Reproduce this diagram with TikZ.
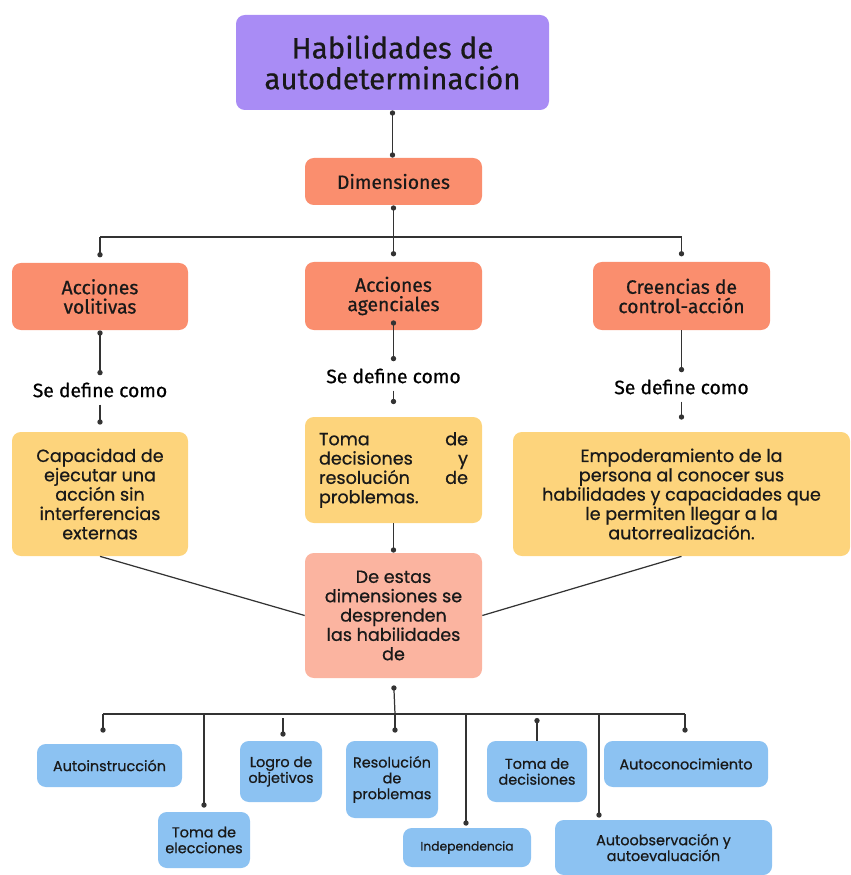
\documentclass[tikz,border=0pt]{standalone}
\usepackage{fontspec}
\setmainfont{Poppins}[FakeBold=0.7]
\newfontfamily\humfont{Fira Sans}[FakeBold=0.6]
\usetikzlibrary{arrows.meta}
\definecolor{lila}{HTML}{A98CF5}
\definecolor{salmon}{HTML}{FA8E6E}
\definecolor{salmonclaro}{HTML}{FBB4A0}
\definecolor{amarillo}{HTML}{FDD47C}
\definecolor{celeste}{HTML}{8CC2F2}
\definecolor{linea}{HTML}{333333}
\begin{document}
\begin{tikzpicture}[
  caja/.style={rounded corners=5pt,inner sep=0pt,align=center,text=black!90},
  titulo/.style={caja,fill=lila,font=\humfont\fontsize{16.8}{17.5}\selectfont},
  dimbox/.style={caja,fill=salmon,font=\humfont\fontsize{11}{11}\selectfont},
  defbox/.style={caja,fill=amarillo,font=\fontsize{10}{11}\selectfont},
  habbox/.style={caja,fill=celeste,font=\fontsize{8.2}{9}\selectfont},
  sedef/.style={inner sep=4pt,font=\humfont\fontsize{11}{11}\selectfont},
  con/.style={line width=0.7pt,draw=linea},
  dd/.style={con,{Circle[length=3pt]}-{Circle[length=3pt]}},
  pto/.style={con,-{Circle[length=3pt]}},
  ptoini/.style={con,{Circle[length=3pt]}-}]
  \useasboundingbox (0,0) rectangle (17,-17.5);
  % Titulo y dimensiones
  \node[titulo,minimum width=6.26cm,minimum height=1.9cm] (tit) at (7.85,-1.25) {Habilidades de\\autodeterminación};
  \node[dimbox,minimum width=3.54cm,minimum height=0.94cm] (dim) at (7.87,-3.63) {Dimensiones};
  \node[dimbox,minimum width=3.52cm,minimum height=1.34cm] (vol) at (2.0,-5.93) {Acciones\\volitivas};
  \node[dimbox,minimum width=3.54cm,minimum height=1.36cm] (age) at (7.87,-5.92) {Acciones\\agenciales};
  \node[dimbox,minimum width=3.54cm,minimum height=1.36cm] (cre) at (13.63,-5.92) {Creencias de\\control-acción};
  % Se define como
  \node[sedef] (se1) at (2.0,-7.8) {Se define como};
  \node[sedef] (se2) at (7.87,-7.52) {Se define como};
  \node[sedef] (se3) at (13.63,-7.74) {Se define como};
  % Definiciones
  \node[defbox,minimum width=3.52cm,minimum height=2.48cm] (cap) at (2.0,-9.88) {Capacidad de\\ejecutar una\\acción sin\\interferencias\\externas};
  \node[defbox,minimum width=3.54cm,minimum height=2.12cm,align=left,text width=2.98cm] (toma) at (7.87,-9.4) {Toma\hfill de\\decisiones\hfill y\\resolución\hfill de\\problemas.};
  \node[defbox,minimum width=6.74cm,minimum height=2.48cm] (emp) at (13.63,-9.88) {Empoderamiento de la\\persona al conocer sus\\habilidades y capacidades que\\le permiten llegar a la\\autorrealización.};
  \node[caja,fill=salmonclaro,font=\fontsize{10}{11}\selectfont,minimum width=3.54cm,minimum height=2.5cm] (dee) at (7.87,-12.31) {De estas\\dimensiones se\\desprenden\\las habilidades\\de};
  % Habilidades
  \node[habbox,minimum width=2.9cm,minimum height=0.86cm] (ains) at (2.19,-15.31) {Autoinstrucción};
  \node[habbox,minimum width=1.84cm,minimum height=1.12cm] (elec) at (4.08,-16.8) {Toma de\\elecciones};
  \node[habbox,minimum width=1.64cm,minimum height=1.22cm] (logro) at (5.62,-15.43) {Logro de\\objetivos};
  \node[habbox,minimum width=1.84cm,minimum height=1.54cm] (res) at (7.84,-15.59) {Resolución\\de\\problemas};
  \node[habbox,font=\fontsize{7}{8.5}\selectfont,minimum width=2.56cm,minimum height=0.78cm] (indep) at (9.34,-16.95) {Independencia};
  \node[habbox,minimum width=2.0cm,minimum height=1.22cm] (tdec) at (10.74,-15.43) {Toma de\\decisiones};
  \node[habbox,minimum width=3.28cm,minimum height=0.92cm] (acon) at (13.72,-15.28) {Autoconocimiento};
  \node[habbox,minimum width=4.34cm,minimum height=1.1cm] (aobs) at (13.27,-16.95) {Autoobservación y\\autoevaluación};
  % Conectores superiores
  \draw[dd] (tit.south) -- (tit.south |- dim.north);
  \coordinate (b1) at (7.87,-4.74);
  \draw[ptoini] (dim.south) -- (b1);
  \draw[con] (vol.north |- b1) -- (cre.north |- b1);
  \foreach \n in {vol,age,cre} \draw[pto,shorten >=3pt] (\n.north |- b1) -- (\n.north);
  \draw[dd] (vol.south) -- (se1.north);
  \draw[pto,shorten >=0.14cm] (se1.south) -- (cap.north);
  \draw[dd] ([yshift=0.2cm]age.south) -- (se2.north);
  \draw[pto,shorten >=0.25cm] (se2.south) -- (toma.north);
  \draw[pto] (cre.south) -- (se3.north);
  \draw[pto,shorten >=0.24cm] (se3.south) -- (emp.north);
  \draw[pto] (toma.south) -- (dee.north);
  \draw[con] (cap.south) -- (dee.west);
  \draw[con] (emp.south) -- (dee.east);
  % Conectores inferiores
  \coordinate (b2) at (7.9,-14.28);
  \draw[ptoini,shorten <=0.14cm] (dee.south) -- (b2);
  \foreach \n/\x/\s in {ains/2.06/0.22,elec/4.08/0.08,res/7.9/0.16,indep/9.32/0.04,acon/13.7/0.16,aobs/11.98/0.04}{
    \coordinate (p-\n) at (\x,-14.28);
    \draw[pto,shorten >=\s cm] (p-\n) -- (p-\n |- \n.north);
  }
  \coordinate (p-logro) at (5.66,-14.28);
  \draw[pto,shorten <=0.08cm,shorten >=0.08cm] (p-logro) -- (p-logro |- logro.north);
  \coordinate (p-tdec) at (10.74,-14.28);
  \draw[ptoini,shorten <=0.08cm] (p-tdec) -- (tdec.north);
  \draw[con] (p-ains) -- (p-acon);
\end{tikzpicture}
\end{document}
